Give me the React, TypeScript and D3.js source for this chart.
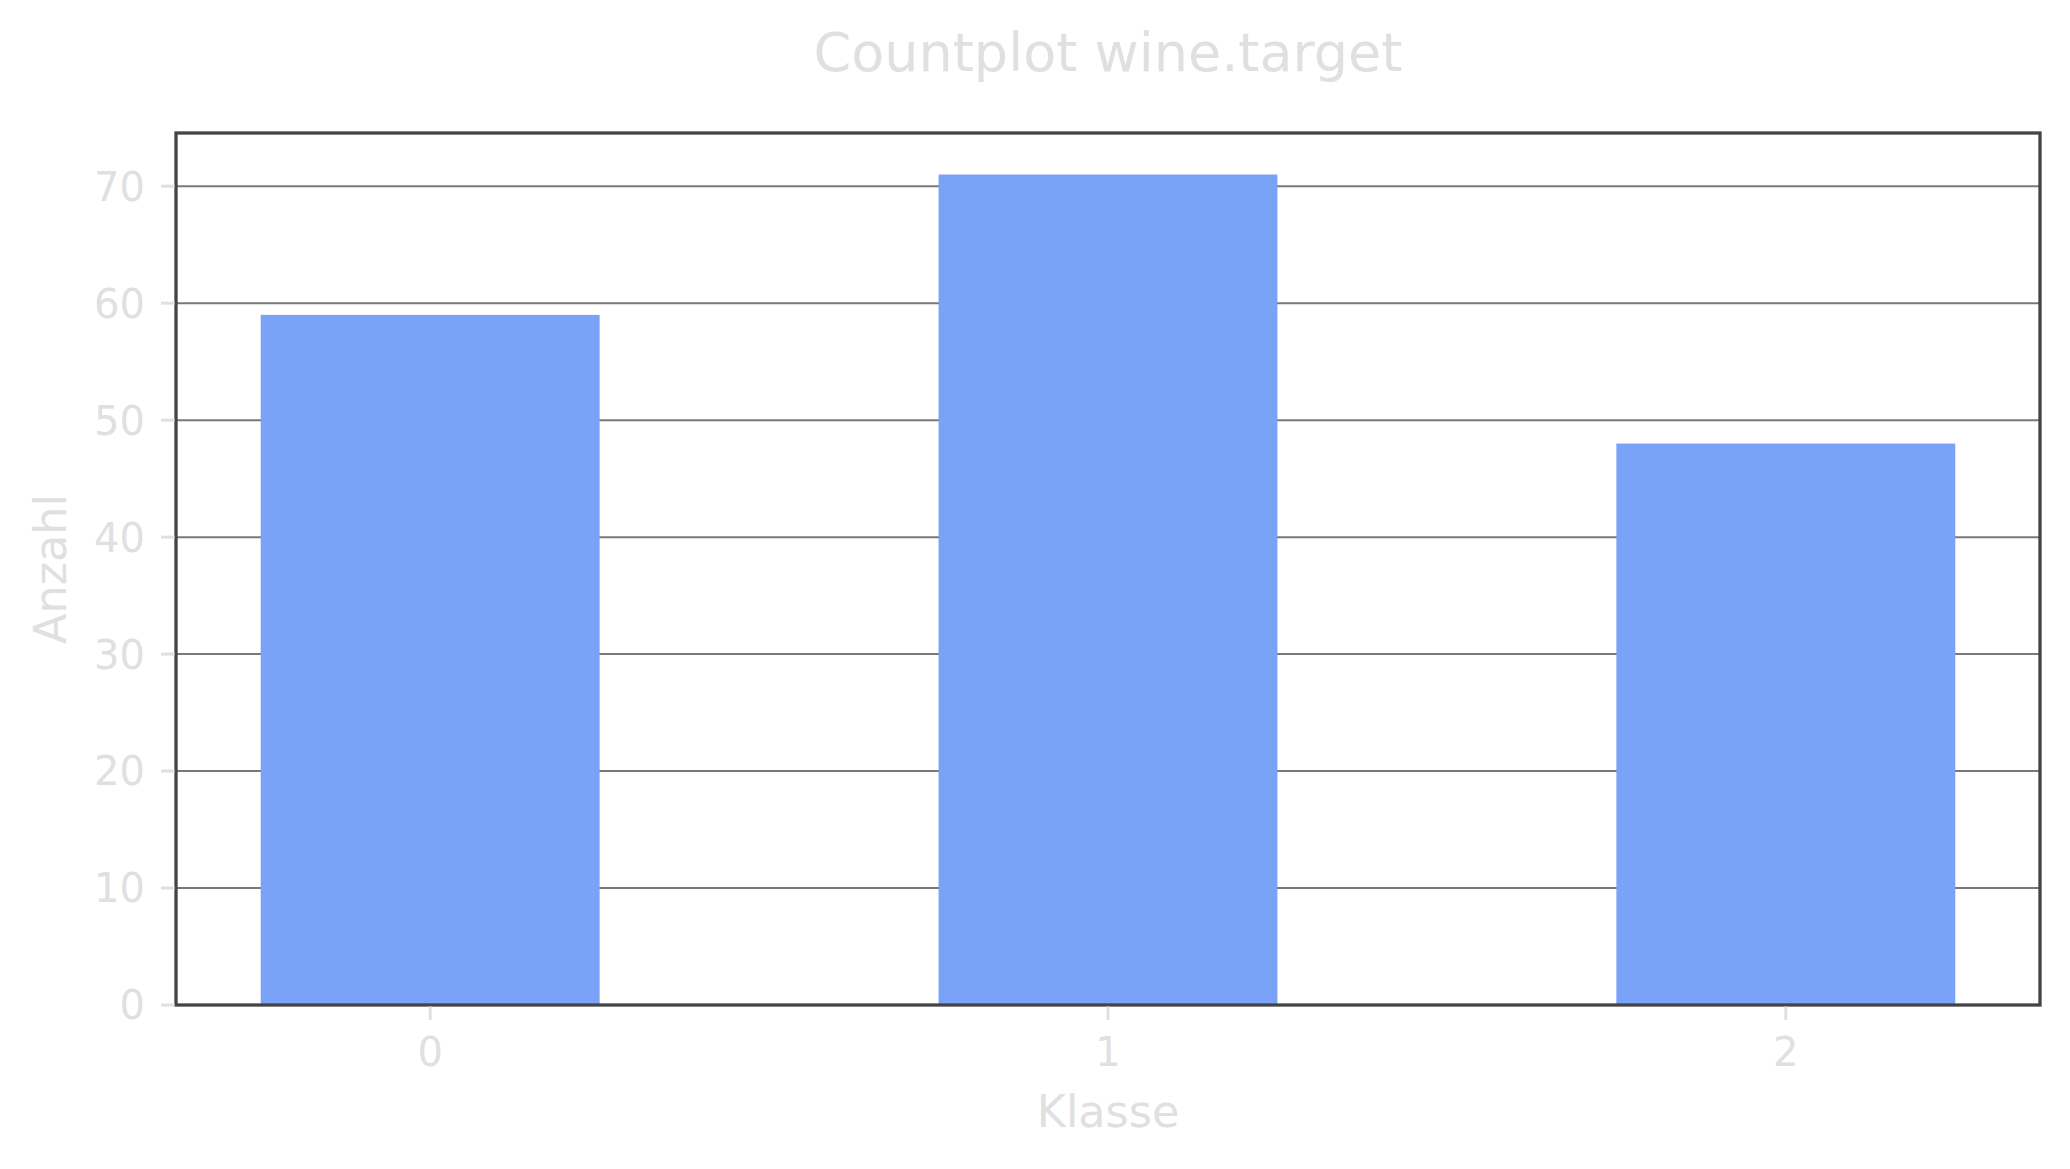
import React from 'react';
import * as d3 from 'd3';

// counts per wine class (sklearn wine dataset)
const classes = ['0', '1', '2'];
const counts = [59, 71, 48];
const yTicks = [0, 10, 20, 30, 40, 50, 60, 70];

const title = 'Countplot wine.target';
const xLabel = 'Klasse';
const yLabel = 'Anzahl';

const width = 2070;
const height = 1169;
const margin = { top: 133, right: 30, bottom: 164, left: 176 };

const barColor = '#7aa2f7';
const textColor = '#e0e0e0';
const spineColor = '#444444';
const gridColor = '#787878';
const font = 'DejaVu Sans, sans-serif';

const App: React.FC = () => {
  const x0 = margin.left;
  const x1 = width - margin.right;
  const y0 = height - margin.bottom;
  const y1 = margin.top;

  const barWidth = 0.5;
  const x = d3.scaleLinear()
    .domain([-0.375, classes.length - 1 + 0.375])
    .range([x0, x1]);

  const ymax = d3.max(counts)! * 1.05;
  const y = d3.scaleLinear().domain([0, ymax]).range([y0, y1]);

  return (
    <svg
      width={width}
      height={height}
      style={{ position: 'absolute', left: 0, top: 0, background: 'white' }}
      fontFamily={font}
    >
      <rect width={width} height={height} fill="white" />

      {/* grid */}
      {yTicks.map(t => (
        <line key={'g' + t} x1={x0} x2={x1} y1={y(t)} y2={y(t)} stroke={gridColor} strokeWidth={2} />
      ))}

      {/* bars */}
      {counts.map((c, i) => (
        <rect
          key={'b' + i}
          x={x(i - barWidth / 2)}
          width={x(i + barWidth / 2) - x(i - barWidth / 2)}
          y={y(c)}
          height={y(0) - y(c)}
          fill={barColor}
        />
      ))}

      {/* frame */}
      <rect x={x0} y={y1} width={x1 - x0} height={y0 - y1} fill="none" stroke={spineColor} strokeWidth={3.3} />

      {/* y ticks */}
      {yTicks.map(t => (
        <g key={'y' + t} transform={`translate(0,${y(t)})`}>
          <line x1={x0 - 15} x2={x0 - 1.5} stroke={textColor} strokeWidth={3} />
          <text x={x0 - 31} dy="0.36em" textAnchor="end" fontSize={40} fill={textColor}>{t}</text>
        </g>
      ))}

      {/* x ticks */}
      {classes.map((c, i) => (
        <g key={'x' + c} transform={`translate(${x(i)},0)`}>
          <line y1={y0 + 1.5} y2={y0 + 15} stroke={textColor} strokeWidth={3} />
          <text y={1066} textAnchor="middle" fontSize={40} fill={textColor}>{c}</text>
        </g>
      ))}

      <text x={(x0 + x1) / 2} y={1127} textAnchor="middle" fontSize={44.5} fill={textColor}>{xLabel}</text>
      <text
        transform={`translate(66,${(y0 + y1) / 2}) rotate(-90)`}
        textAnchor="middle"
        fontSize={44.5}
        fill={textColor}
      >
        {yLabel}
      </text>
      <text x={(x0 + x1) / 2} y={71} textAnchor="middle" fontSize={54} fill={textColor}>{title}</text>
    </svg>
  );
};

export default App;
